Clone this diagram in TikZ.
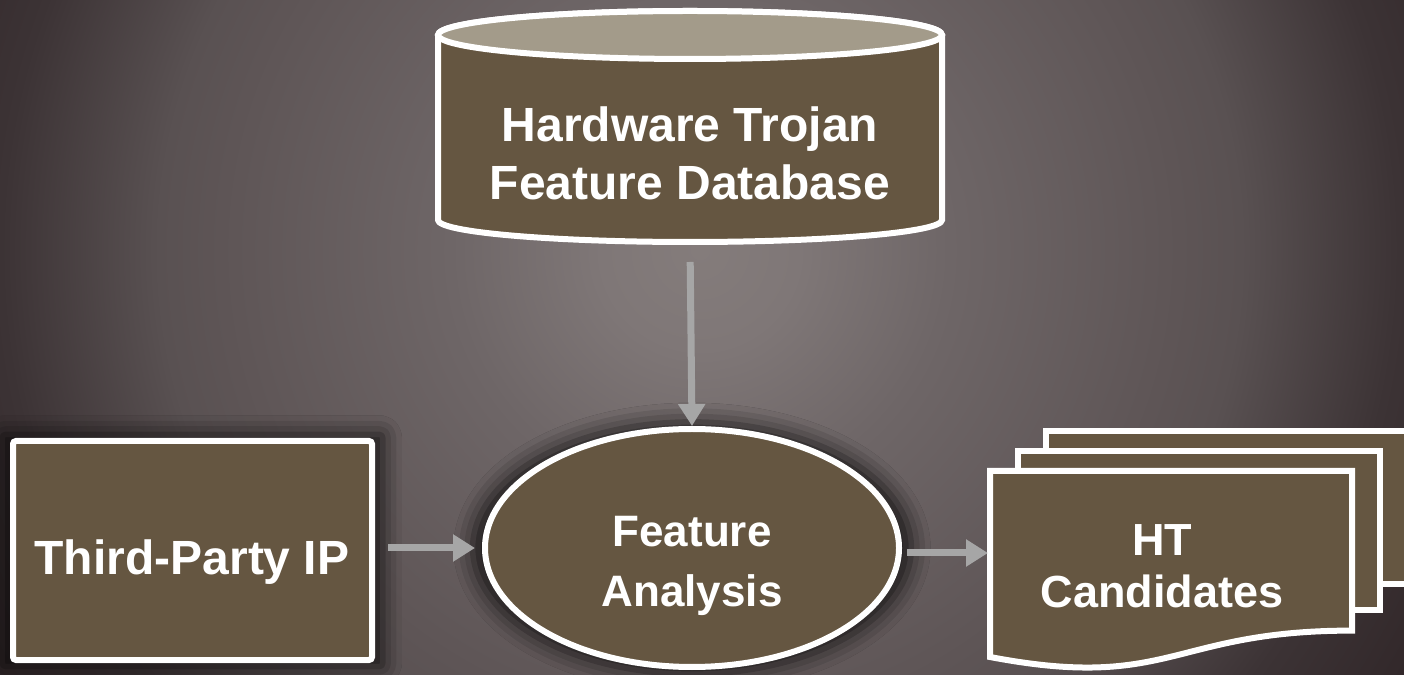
\documentclass[tikz,border=0pt]{standalone}
\usepackage{fontspec}
\setmainfont{Liberation Sans}
\usetikzlibrary{arrows.meta,shapes.geometric,shadows.blur}

% palette
\definecolor{panel}{HTML}{655641}
\definecolor{lid}{HTML}{A39B8A}
\definecolor{link}{HTML}{A6A6A6}
\definecolor{bgA}{HTML}{847C7B}
\definecolor{bgB}{HTML}{7F7777}
\definecolor{bgC}{HTML}{6E6667}
\definecolor{bgD}{HTML}{5E5556}
\definecolor{bgE}{HTML}{595152}
\definecolor{bgF}{HTML}{3C3335}
\definecolor{bgG}{HTML}{32282A}

% soft vignette behind everything (25bp = half the shaded square)
\pgfdeclareradialshading{backdrop}{\pgforigin}{%
  color(0bp)=(bgA); color(3bp)=(bgB); color(7.6bp)=(bgC);
  color(14.6bp)=(bgD); color(16.5bp)=(bgE); color(21.3bp)=(bgF);
  color(25bp)=(bgG); color(50bp)=(bgG)}

\tikzset{
  panelshape/.style={fill=panel, draw=white, line width=6pt},
  glow/.style={blur shadow={shadow xshift=0pt, shadow yshift=0pt,
      shadow scale=1.06, shadow blur radius=18pt, shadow opacity=75}},
  txt/.style={text=white, align=center, inner sep=0pt},
  arr/.style={draw=link, line width=7pt, -{Triangle[length=22pt,width=26pt]}},
}

\begin{document}
\begin{tikzpicture}[x=1pt,y=1pt]
\useasboundingbox (0,0) rectangle (1404,674);

% background
\begin{scope}
  \clip (0,0) rectangle (1404,674);
  \shade[shading=backdrop] (-120,-396) rectangle (1520,1244);
\end{scope}

% database cylinder
\path[panelshape] (438,639) -- (438,454)
  arc[start angle=180, end angle=360, x radius=252, y radius=22]
  -- (942,639)
  arc[start angle=0, end angle=180, x radius=252, y radius=24] -- cycle;
\draw[panelshape, fill=lid] (690,639) ellipse[x radius=252, y radius=24];
\node[txt, font=\fontsize{48pt}{58pt}\selectfont\bfseries] (db) at (690,521)
  {Hardware Trojan\\Feature Database};
\coordinate (dbbase) at (690,430);

% third-party IP block
\node[panelshape, glow, rounded corners=3pt, minimum width=359pt,
      minimum height=219pt, inner sep=0pt] (tp) at (192.5,123.5) {};
\node[txt, font=\fontsize{48pt}{56pt}\selectfont\bfseries] (tpl) at (192,112)
  {Third-Party IP};

% feature analysis
\node[panelshape, glow, ellipse, minimum width=414pt, minimum height=238pt,
      inner sep=0pt] (fa) at (692,126) {};
\node[txt, font=\fontsize{44pt}{60pt}\selectfont\bfseries] (fal) at (692,108)
  {Feature\\Analysis};

% stacked HT candidate documents
\path[panelshape] (1046,243) rectangle (1408,90);
\path[panelshape] (1018,223) rectangle (1380,64);
\path[panelshape] (990,203) -- (1352,203) -- (1352,43.4)
  .. controls (1171,43.4) and (1171,-17.4) .. (990,17) -- cycle;
\node[txt, font=\fontsize{45pt}{52pt}\selectfont\bfseries] (ht) at (1162,108)
  {HT\\Candidates};
\coordinate (docin) at (988,121);

% connectors
\draw[arr, shorten <=18pt] (dbbase) -- (fa.north);
\draw[arr, shorten <=13pt, shorten >=7pt] (tp.east |- fa.west) -- (fa.west);
\draw[arr, shorten <=5pt] (fa.east |- docin) -- (docin);
\end{tikzpicture}
\end{document}
